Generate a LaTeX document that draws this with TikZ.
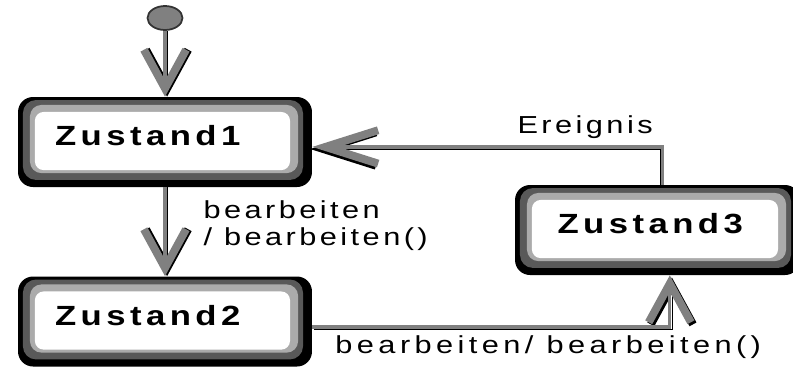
\documentclass[tikz,border=0pt]{standalone}
\usepackage{fontspec}
\setmainfont{Liberation Sans}
\newfontfamily\zfont[FakeStretch=1.25,LetterSpace=16]{Liberation Sans}
\newfontfamily\lfont[FakeStretch=1.25,LetterSpace=14]{Liberation Sans}
\newfontfamily\lfontb[FakeStretch=1.25,LetterSpace=18]{Liberation Sans}
\usetikzlibrary{arrows.meta,shapes.geometric}

% Band eines Zustandskastens: Farbe, Abstand links/unten/rechts/oben, Radius
\newcommand{\zband}[6]{%
  \fill[#1,rounded corners=#6]
    ([xshift=#2,yshift=#3]path picture bounding box.south west) rectangle
    ([xshift=-#4,yshift=-#5]path picture bounding box.north east);}

\tikzset{
  zustand/.style={rectangle, rounded corners=8.5pt, fill=black,
    minimum width=5.88cm, minimum height=1.8cm, inner xsep=0.74cm,
    text width=4.4cm, align=left, text height=11pt, text depth=7pt,
    font=\zfont\bfseries\fontsize{15.8}{18}\selectfont,
    path picture={
      \zband{black!65}{2.8pt}{4pt}{5.1pt}{1.7pt}{7.5pt}
      \zband{black!33}{6.8pt}{7.9pt}{7.9pt}{4.5pt}{6.5pt}
      \zband{white}{9.6pt}{9.6pt}{12.5pt}{8.5pt}{5pt}
    }},
  start/.style={ellipse, fill=black!50, draw=black!80, line width=1pt,
    minimum width=0.7cm, minimum height=0.48cm, inner sep=0pt},
  fluss/.style={draw=gray, line width=1.8pt,
    preaction={draw=black, transform canvas={shift={#1}}}},
  spitze/.style={-{Straight Barb[length=22pt,width=24pt,line width=4.5pt]}},
  beschrift/.style={font=\lfont\fontsize{14}{15.3}\selectfont, inner sep=2pt}
}

\begin{document}
\begin{tikzpicture}[x=0.02cm,y=-0.02cm]
  \useasboundingbox (0,0) rectangle (793,366);
  % Zustaende
  \node[start] (s) at (165,18) {};
  \node[zustand] (z1) at (165,142) {Zustand1};
  \node[zustand] (z2) at (165,321.5) {Zustand2};
  \node[zustand, minimum width=5.7cm, text width=4cm] (z3) at (657.5,230) {Zustand3};
  % Uebergaenge
  \draw[fluss={(1.2pt,0pt)}, spitze] (s) -- (z1);
  \draw[fluss={(1.2pt,0pt)}, spitze] (z1) -- (z2)
    node[beschrift, midway, right=0.67cm, yshift=3.4pt, align=left] {bearbeiten\\/ bearbeiten()};
  \draw[fluss={(1.2pt,-1.2pt)}, spitze] ([yshift=-3.1pt]z2.east) -| ([xshift=7pt]z3.south)
    node[beschrift, pos=0.33, below=2pt, font=\lfontb\fontsize{14}{15.3}\selectfont] {bearbeiten/ bearbeiten()};
  \draw[fluss={(-1.2pt,-1.2pt)}, -{Straight Barb[length=30pt,width=19pt,line width=4.5pt]}]
    ([xshift=2.6pt]z3.north) |- ([yshift=-2.8pt]z1.east)
    node[beschrift, pos=0.61, above=2pt] {Ereignis};
\end{tikzpicture}
\end{document}
